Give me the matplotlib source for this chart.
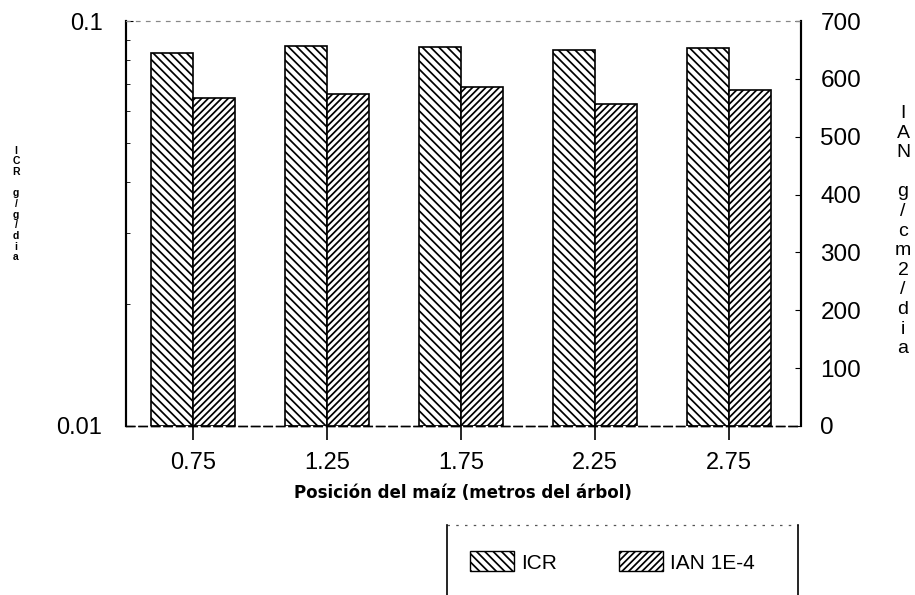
import matplotlib
matplotlib.use("Agg")
import matplotlib.pyplot as plt
from matplotlib.patches import Patch
from matplotlib.lines import Line2D
import numpy as np

plt.rcParams['font.family'] = ['Liberation Sans', 'DejaVu Sans']
plt.rcParams['hatch.linewidth'] = 1.25

positions = [0.75, 1.25, 1.75, 2.25, 2.75]
tick_labels = ["0.75", "1.25", "1.75", "2.25", "2.75"]
icr = [0.0834, 0.0868, 0.0863, 0.0849, 0.0858]
ian = [567, 574, 586, 557, 581]

W, H = 915, 595
fig = plt.figure(figsize=(9.15, 5.95), dpi=100)
ax = fig.add_axes([126/W, 1-426/H, (801-126)/W, (426-21)/H])
ax2 = ax.twinx()

w = 0.157
x = np.array(positions)
ax.bar(x - w/2, np.array(icr) - 0.01, bottom=0.01, width=w, facecolor='white',
       edgecolor='black', hatch='\\\\\\\\', linewidth=1.2, zorder=2)
ax2.bar(x + w/2, ian, width=w, facecolor='white', edgecolor='black',
        hatch='/////', linewidth=1.2, zorder=2)

ax.set_yscale('log')
ax.set_ylim(0.01, 0.1)
ax.set_xlim(0.5, 3.02)
ax2.set_ylim(0, 700)

ax.set_yticks([0.01, 0.1])
ax.set_yticklabels(["0.01", "0.1"], fontsize=17)
ax.tick_params(axis='y', which='major', length=5, direction='in', pad=17)
ax.tick_params(axis='y', which='minor', length=3, direction='in', labelleft=False)
ax.yaxis.set_minor_formatter(matplotlib.ticker.NullFormatter())

ax2.set_yticks(range(0, 701, 100))
ax2.set_yticklabels([str(v) for v in range(0, 701, 100)], fontsize=17.5)
ax2.tick_params(axis='y', length=4, direction='in', pad=14)

ax.set_xticks(positions)
ax.set_xticklabels(tick_labels, fontsize=17)
ax.tick_params(axis='x', length=10, direction='out', pad=9, width=1.2)

for a in (ax, ax2):
    a.spines['top'].set_linestyle((0, (3, 6)))
    a.spines['top'].set_color('#888888')
    a.spines['top'].set_linewidth(0.8)
    a.spines['bottom'].set_linestyle((0, (6, 3)))
    a.spines['bottom'].set_linewidth(1.0)
    a.spines['left'].set_linewidth(1.5)
    a.spines['right'].set_linewidth(1.5)

fig.text(463/W, 1-493/H, "Posición del maíz (metros del árbol)", fontsize=12,
         fontweight='bold', family='DejaVu Sans', ha='center', va='center')

fig.text(16/W, 1-204/H, "I\nC\nR\n\ng\n/\ng\n/\nd\ni\na", fontsize=7.5,
         fontweight='bold', ha='center', va='center', linespacing=1.08)
fig.text(903/W, 1-231/H, "I\nA\nN\n\ng\n/\nc\nm\n2\n/\nd\ni\na", fontsize=14,
         ha='center', va='center', linespacing=1.2)

handles = [Patch(facecolor='white', edgecolor='black', hatch='\\\\\\\\'),
           Patch(facecolor='white', edgecolor='black', hatch='/////')]
leg = fig.legend(handles, ["ICR", "IAN 1E-4"], loc='center left',
                 bbox_to_anchor=(470/W, 1-562/H), ncol=2, fontsize=15,
                 frameon=False, handlelength=2.1, handleheight=1.1,
                 handletextpad=0.35, columnspacing=3.0, borderpad=0,
                 borderaxespad=0)

# legend frame: dotted top, solid sides running off the bottom
fig.add_artist(Line2D([447/W, 798/W], [1-525/H, 1-525/H], transform=fig.transFigure,
                      color='#555555', linewidth=0.9, linestyle=(0, (2, 5))))
fig.add_artist(Line2D([447/W, 447/W], [1-525/H, 0], transform=fig.transFigure,
                      color='black', linewidth=1.2))
fig.add_artist(Line2D([798/W, 798/W], [1-525/H, 0], transform=fig.transFigure,
                      color='black', linewidth=1.2))

fig.savefig("out.png", dpi=100)
